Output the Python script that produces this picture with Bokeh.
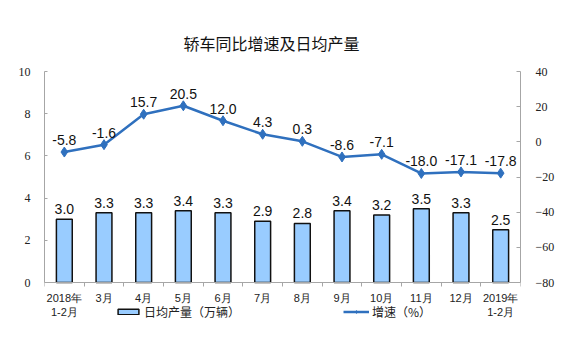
from bokeh.plotting import figure
from bokeh.models import (Range1d, LinearAxis, FixedTicker, ColumnDataSource,
                          Legend, LegendItem, LabelSet)
from bokeh.core.properties import value
from bokeh.embed import file_html
from bokeh.resources import INLINE

# ---- data ----
months = ["2018年\n1-2月", "3月", "4月", "5月", "6月", "7月", "8月", "9月",
          "10月", "11月", "12月", "2019年\n1-2月"]
daily_output = [3.0, 3.3, 3.3, 3.4, 3.3, 2.9, 2.8, 3.4, 3.2, 3.5, 3.3, 2.5]
growth = [-5.8, -1.6, 15.7, 20.5, 12.0, 4.3, 0.3, -8.6, -7.1, -18.0, -17.1, -17.8]
left_ticks = [0, 2, 4, 6, 8, 10]
right_ticks = [-80, -60, -40, -20, 0, 20, 40]
title_text = "轿车同比增速及日均产量"
bar_legend = "日均产量（万辆）"
line_legend = "增速（%）"

BAR_FILL = "#99CCFF"
LINE_COLOR = "#2F70BE"
AXIS_GREY = "#A6A6A6"

# layout: the axes span 211 px; the frame extends 58 px further down so the
# legend (below the month labels) is drawn inside the frame
AXIS_PX = 211
EXTRA_PX = 58
L_MIN, L_MAX = left_ticks[0], left_ticks[-1]
R_MIN, R_MAX = right_ticks[0], right_ticks[-1]
l_ext = EXTRA_PX * (L_MAX - L_MIN) / AXIS_PX
r_ext = EXTRA_PX * (R_MAX - R_MIN) / AXIS_PX

xs = [i + 0.5 for i in range(len(months))]
src = ColumnDataSource(dict(
    x=xs, out=daily_output, g=growth,
    out_lbl=["%.1f" % v for v in daily_output],
    g_lbl=["%.1f" % v for v in growth],
))

p = figure(width=561, height=340, frame_width=476, frame_height=AXIS_PX + EXTRA_PX,
           output_backend="svg", toolbar_location=None,
           x_range=Range1d(0, len(months)), y_range=Range1d(L_MIN - l_ext, L_MAX),
           min_border_left=44, min_border_right=41, min_border_top=71,
           min_border_bottom=0)
p.outline_line_color = None
p.grid.visible = False

p.extra_y_ranges = {"g": Range1d(R_MIN - r_ext, R_MAX)}

bars = p.vbar(x="x", top="out", width=0.4, source=src, fill_color=BAR_FILL,
              line_color="#111111", line_width=1.5)
line = p.line(x="x", y="g", source=src, y_range_name="g", line_color=LINE_COLOR,
              line_width=2.5)
pts = p.scatter(x="x", y="g", source=src, y_range_name="g", marker="diamond",
                size=10, fill_color=LINE_COLOR, line_color=LINE_COLOR)

p.add_layout(LabelSet(x="x", y="out", text="out_lbl", source=src,
                      text_align="center", text_baseline="alphabetic",
                      y_offset=5, text_font=value("Liberation Sans"),
                      text_font_size=value("14px"), text_color="#111111"))
p.add_layout(LabelSet(x="x", y="g", text="g_lbl", source=src, y_range_name="g",
                      text_align="center", text_baseline="alphabetic",
                      y_offset=7, text_font=value("Liberation Sans"),
                      text_font_size=value("14px"), text_color="#111111"))

# title
p.title.text = title_text
p.title.align = "left"
p.title.offset = 139
p.title.standoff = 34
p.title.text_font = "Noto Sans CJK SC"
p.title.text_font_size = "16px"
p.title.text_font_style = "normal"
p.title.text_color = "#111111"

# x axis, drawn at the value 0 of the left axis
xa = p.xaxis[0]
xa.fixed_location = L_MIN
xa.ticker = FixedTicker(ticks=xs, minor_ticks=list(range(len(months) + 1)))
xa.major_label_overrides = {x: m for x, m in zip(xs, months)}
xa.major_tick_line_color = None
xa.major_tick_in = 0
xa.major_tick_out = 0
xa.minor_tick_in = 0
xa.minor_tick_out = 4
xa.minor_tick_line_color = AXIS_GREY
xa.axis_line_color = AXIS_GREY
xa.major_label_standoff = 5
xa.major_label_text_font = "Liberation Sans"
xa.major_label_text_font_size = "11px"
xa.major_label_text_color = "#222222"

# left axis
ya = p.yaxis[0]
ya.ticker = FixedTicker(ticks=left_ticks)
ya.bounds = (L_MIN, L_MAX)
ya.axis_line_color = AXIS_GREY
ya.major_tick_line_color = AXIS_GREY
ya.major_tick_in = 3
ya.major_tick_out = 0
ya.minor_tick_line_color = None
ya.major_label_standoff = 14
ya.major_label_text_font = "Liberation Serif"
ya.major_label_text_font_size = "12px"
ya.major_label_text_color = "#222222"

# right axis
ra = LinearAxis(y_range_name="g", ticker=FixedTicker(ticks=right_ticks),
                bounds=(R_MIN, R_MAX))
ra.axis_line_color = AXIS_GREY
ra.major_tick_line_color = AXIS_GREY
ra.major_tick_in = 4
ra.major_tick_out = 0
ra.minor_tick_line_color = None
ra.major_label_standoff = 15
ra.major_label_text_font = "Liberation Serif"
ra.major_label_text_font_size = "12px"
ra.major_label_text_color = "#222222"
p.add_layout(ra, "right")

# legend, inside the lower strip of the frame
legend = Legend(items=[LegendItem(label=bar_legend, renderers=[bars]),
                       LegendItem(label=line_legend, renderers=[line, pts])],
                orientation="horizontal", location=(71, 20),
                glyph_width=26, glyph_height=7, label_standoff=3, spacing=103,
                padding=0, margin=0, border_line_color=None,
                background_fill_alpha=0,
                label_text_font="Noto Sans CJK SC", label_text_font_size="12px",
                label_text_color="#222222")
p.add_layout(legend, "center")

open("out.html", "w").write(file_html(p, INLINE))
